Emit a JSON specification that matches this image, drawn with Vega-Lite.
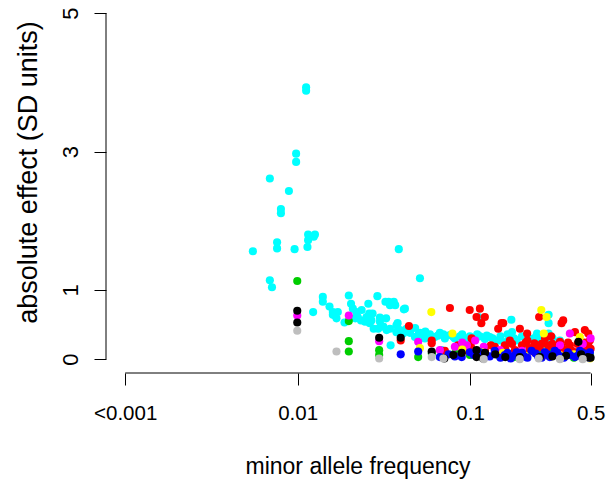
{
  "$schema": "https://vega.github.io/schema/vega-lite/v6.json",
  "width": 503,
  "height": 373,
  "autosize": {"type": "none"},
  "padding": {"left": 106, "top": 0, "right": 3, "bottom": 110},
  "background": "white",
  "config": {"view": {"stroke": null}, "font": "Liberation Sans"},
  "layer": [
    {
      "data": {"values": [{"x1": 0.001, "x2": 0.5}]},
      "mark": {"type": "rule", "color": "black", "strokeWidth": 1},
      "encoding": {
        "x": {"field": "x1", "type": "quantitative", "scale": {"type": "log", "domain": [0.000774, 0.639], "nice": false, "zero": false}},
        "x2": {"field": "x2"},
        "y": {"datum": -0.2, "type": "quantitative"}
      }
    },
    {
      "data": {"values": [{"y1": 0, "y2": 5}]},
      "mark": {"type": "rule", "color": "black", "strokeWidth": 1},
      "encoding": {
        "y": {"field": "y1", "type": "quantitative"},
        "y2": {"field": "y2"},
        "x": {"datum": 0.000774, "type": "quantitative"}
      }
    },
    {
      "data": {"values": [
        {"maf": 0.0112, "effect": 3.93, "grp": "cyan"},
        {"maf": 0.0112, "effect": 3.88, "grp": "cyan"},
        {"maf": 0.0098, "effect": 2.97, "grp": "cyan"},
        {"maf": 0.0098, "effect": 2.85, "grp": "cyan"},
        {"maf": 0.0069, "effect": 2.61, "grp": "cyan"},
        {"maf": 0.0089, "effect": 2.43, "grp": "cyan"},
        {"maf": 0.0080, "effect": 2.17, "grp": "cyan"},
        {"maf": 0.0080, "effect": 2.11, "grp": "cyan"},
        {"maf": 0.0115, "effect": 1.80, "grp": "cyan"},
        {"maf": 0.0126, "effect": 1.80, "grp": "cyan"},
        {"maf": 0.0115, "effect": 1.72, "grp": "cyan"},
        {"maf": 0.0124, "effect": 1.77, "grp": "cyan"},
        {"maf": 0.0076, "effect": 1.69, "grp": "cyan"},
        {"maf": 0.0076, "effect": 1.60, "grp": "cyan"},
        {"maf": 0.0055, "effect": 1.56, "grp": "cyan"},
        {"maf": 0.0096, "effect": 1.59, "grp": "cyan"},
        {"maf": 0.0114, "effect": 1.62, "grp": "cyan"},
        {"maf": 0.0386, "effect": 1.59, "grp": "cyan"},
        {"maf": 0.0069, "effect": 1.14, "grp": "cyan"},
        {"maf": 0.0071, "effect": 1.04, "grp": "cyan"},
        {"maf": 0.0512, "effect": 1.17, "grp": "cyan"},
        {"maf": 0.0140, "effect": 0.90, "grp": "cyan"},
        {"maf": 0.0198, "effect": 0.92, "grp": "cyan"},
        {"maf": 0.0290, "effect": 0.91, "grp": "cyan"},
        {"maf": 0.0337, "effect": 0.83, "grp": "cyan"},
        {"maf": 0.0361, "effect": 0.83, "grp": "cyan"},
        {"maf": 0.0343, "effect": 0.78, "grp": "cyan"},
        {"maf": 0.0368, "effect": 0.78, "grp": "cyan"},
        {"maf": 0.0123, "effect": 0.68, "grp": "cyan"},
        {"maf": 0.0140, "effect": 0.83, "grp": "cyan"},
        {"maf": 0.0153, "effect": 0.76, "grp": "cyan"},
        {"maf": 0.0160, "effect": 0.68, "grp": "cyan"},
        {"maf": 0.0160, "effect": 0.64, "grp": "cyan"},
        {"maf": 0.0168, "effect": 0.59, "grp": "cyan"},
        {"maf": 0.0171, "effect": 0.68, "grp": "cyan"},
        {"maf": 0.0204, "effect": 0.80, "grp": "cyan"},
        {"maf": 0.0209, "effect": 0.73, "grp": "cyan"},
        {"maf": 0.0219, "effect": 0.68, "grp": "cyan"},
        {"maf": 0.0223, "effect": 0.61, "grp": "cyan"},
        {"maf": 0.0216, "effect": 0.59, "grp": "cyan"},
        {"maf": 0.0233, "effect": 0.56, "grp": "cyan"},
        {"maf": 0.0257, "effect": 0.80, "grp": "cyan"},
        {"maf": 0.0251, "effect": 0.61, "grp": "cyan"},
        {"maf": 0.0246, "effect": 0.54, "grp": "cyan"},
        {"maf": 0.0262, "effect": 0.52, "grp": "cyan"},
        {"maf": 0.0268, "effect": 0.56, "grp": "cyan"},
        {"maf": 0.0276, "effect": 0.44, "grp": "cyan"},
        {"maf": 0.0293, "effect": 0.44, "grp": "cyan"},
        {"maf": 0.0300, "effect": 0.54, "grp": "cyan"},
        {"maf": 0.0314, "effect": 0.47, "grp": "cyan"},
        {"maf": 0.0328, "effect": 0.42, "grp": "cyan"},
        {"maf": 0.0343, "effect": 0.44, "grp": "cyan"},
        {"maf": 0.0374, "effect": 0.49, "grp": "cyan"},
        {"maf": 0.0374, "effect": 0.39, "grp": "cyan"},
        {"maf": 0.0392, "effect": 0.42, "grp": "cyan"},
        {"maf": 0.0409, "effect": 0.37, "grp": "cyan"},
        {"maf": 0.0428, "effect": 0.44, "grp": "cyan"},
        {"maf": 0.0346, "effect": 0.20, "grp": "cyan"},
        {"maf": 0.0413, "effect": 0.72, "grp": "cyan"},
        {"maf": 0.0419, "effect": 0.73, "grp": "cyan"},
        {"maf": 0.0448, "effect": 0.38, "grp": "cyan"},
        {"maf": 0.0479, "effect": 0.32, "grp": "cyan"},
        {"maf": 0.0512, "effect": 0.38, "grp": "cyan"},
        {"maf": 0.0547, "effect": 0.30, "grp": "cyan"},
        {"maf": 0.0585, "effect": 0.36, "grp": "cyan"},
        {"maf": 0.0625, "effect": 0.32, "grp": "cyan"},
        {"maf": 0.0668, "effect": 0.38, "grp": "cyan"},
        {"maf": 0.0714, "effect": 0.30, "grp": "cyan"},
        {"maf": 0.0764, "effect": 0.35, "grp": "cyan"},
        {"maf": 0.0816, "effect": 0.30, "grp": "cyan"},
        {"maf": 0.0873, "effect": 0.33, "grp": "cyan"},
        {"maf": 0.0933, "effect": 0.29, "grp": "cyan"},
        {"maf": 0.0997, "effect": 0.33, "grp": "cyan"},
        {"maf": 0.1066, "effect": 0.29, "grp": "cyan"},
        {"maf": 0.1140, "effect": 0.33, "grp": "cyan"},
        {"maf": 0.1218, "effect": 0.29, "grp": "cyan"},
        {"maf": 0.1302, "effect": 0.32, "grp": "cyan"},
        {"maf": 0.1392, "effect": 0.27, "grp": "cyan"},
        {"maf": 0.0683, "effect": 0.13, "grp": "cyan"},
        {"maf": 0.1118, "effect": 0.61, "grp": "cyan"},
        {"maf": 0.1735, "effect": 0.57, "grp": "cyan"},
        {"maf": 0.1749, "effect": 0.39, "grp": "cyan"},
        {"maf": 0.1701, "effect": 0.32, "grp": "cyan"},
        {"maf": 0.1862, "effect": 0.27, "grp": "cyan"},
        {"maf": 0.1627, "effect": 0.25, "grp": "cyan"},
        {"maf": 0.2445, "effect": 0.37, "grp": "cyan"},
        {"maf": 0.2853, "effect": 0.64, "grp": "cyan"},
        {"maf": 0.2853, "effect": 0.52, "grp": "cyan"},
        {"maf": 0.2853, "effect": 0.37, "grp": "cyan"},
        {"maf": 0.2917, "effect": 0.27, "grp": "cyan"},
        {"maf": 0.1489, "effect": 0.27, "grp": "cyan"},
        {"maf": 0.1590, "effect": 0.23, "grp": "cyan"},
        {"maf": 0.2080, "effect": 0.20, "grp": "cyan"},
        {"maf": 0.2539, "effect": 0.25, "grp": "cyan"},
        {"maf": 0.3316, "effect": 0.27, "grp": "cyan"},
        {"maf": 0.2714, "effect": 0.16, "grp": "cyan"},
        {"maf": 0.0323, "effect": 0.83, "grp": "cyan"},
        {"maf": 0.0235, "effect": 0.71, "grp": "cyan"},
        {"maf": 0.0272, "effect": 0.66, "grp": "cyan"},
        {"maf": 0.0187, "effect": 0.53, "grp": "cyan"},
        {"maf": 0.0326, "effect": 0.59, "grp": "cyan"},
        {"maf": 0.045, "effect": 0.42, "grp": "cyan"},
        {"maf": 0.050, "effect": 0.35, "grp": "cyan"},
        {"maf": 0.055, "effect": 0.40, "grp": "cyan"},
        {"maf": 0.065, "effect": 0.34, "grp": "cyan"},
        {"maf": 0.070, "effect": 0.36, "grp": "cyan"},
        {"maf": 0.080, "effect": 0.32, "grp": "cyan"},
        {"maf": 0.090, "effect": 0.36, "grp": "cyan"},
        {"maf": 0.100, "effect": 0.30, "grp": "cyan"},
        {"maf": 0.110, "effect": 0.36, "grp": "cyan"},
        {"maf": 0.125, "effect": 0.34, "grp": "cyan"},
        {"maf": 0.135, "effect": 0.30, "grp": "cyan"},
        {"maf": 0.150, "effect": 0.33, "grp": "cyan"},
        {"maf": 0.165, "effect": 0.36, "grp": "cyan"},
        {"maf": 0.180, "effect": 0.30, "grp": "cyan"},
        {"maf": 0.200, "effect": 0.33, "grp": "cyan"},
        {"maf": 0.220, "effect": 0.30, "grp": "cyan"},
        {"maf": 0.240, "effect": 0.32, "grp": "cyan"},
        {"maf": 0.260, "effect": 0.29, "grp": "cyan"},
        {"maf": 0.300, "effect": 0.31, "grp": "cyan"},
        {"maf": 0.038, "effect": 0.52, "grp": "cyan"},
        {"maf": 0.030, "effect": 0.60, "grp": "cyan"},
        {"maf": 0.026, "effect": 0.66, "grp": "cyan"},
        {"maf": 0.048, "effect": 0.45, "grp": "cyan"},
        {"maf": 0.0442, "effect": 0.48, "grp": "red"},
        {"maf": 0.0396, "effect": 0.27, "grp": "red"},
        {"maf": 0.0764, "effect": 0.74, "grp": "red"},
        {"maf": 0.0995, "effect": 0.71, "grp": "red"},
        {"maf": 0.1140, "effect": 0.73, "grp": "red"},
        {"maf": 0.1218, "effect": 0.61, "grp": "red"},
        {"maf": 0.1090, "effect": 0.61, "grp": "red"},
        {"maf": 0.1162, "effect": 0.52, "grp": "red"},
        {"maf": 0.1523, "effect": 0.52, "grp": "red"},
        {"maf": 0.1455, "effect": 0.44, "grp": "red"},
        {"maf": 0.1020, "effect": 0.30, "grp": "red"},
        {"maf": 0.1320, "effect": 0.20, "grp": "red"},
        {"maf": 0.1392, "effect": 0.18, "grp": "red"},
        {"maf": 0.0599, "effect": 0.27, "grp": "red"},
        {"maf": 0.0599, "effect": 0.23, "grp": "red"},
        {"maf": 0.2514, "effect": 0.61, "grp": "red"},
        {"maf": 0.3392, "effect": 0.52, "grp": "red"},
        {"maf": 0.3467, "effect": 0.56, "grp": "red"},
        {"maf": 0.1555, "effect": 0.52, "grp": "red"},
        {"maf": 0.1944, "effect": 0.44, "grp": "red"},
        {"maf": 0.2142, "effect": 0.37, "grp": "red"},
        {"maf": 0.4058, "effect": 0.39, "grp": "red"},
        {"maf": 0.4627, "effect": 0.42, "grp": "red"},
        {"maf": 0.4844, "effect": 0.37, "grp": "red"},
        {"maf": 0.4949, "effect": 0.27, "grp": "red"},
        {"maf": 0.4844, "effect": 0.20, "grp": "red"},
        {"maf": 0.159, "effect": 0.20, "grp": "red"},
        {"maf": 0.170, "effect": 0.27, "grp": "red"},
        {"maf": 0.182, "effect": 0.13, "grp": "red"},
        {"maf": 0.200, "effect": 0.20, "grp": "red"},
        {"maf": 0.222, "effect": 0.16, "grp": "red"},
        {"maf": 0.236, "effect": 0.23, "grp": "red"},
        {"maf": 0.254, "effect": 0.13, "grp": "red"},
        {"maf": 0.283, "effect": 0.20, "grp": "red"},
        {"maf": 0.305, "effect": 0.16, "grp": "red"},
        {"maf": 0.332, "effect": 0.25, "grp": "red"},
        {"maf": 0.355, "effect": 0.13, "grp": "red"},
        {"maf": 0.379, "effect": 0.20, "grp": "red"},
        {"maf": 0.405, "effect": 0.10, "grp": "red"},
        {"maf": 0.445, "effect": 0.16, "grp": "red"},
        {"maf": 0.482, "effect": 0.10, "grp": "red"},
        {"maf": 0.272, "effect": 0.30, "grp": "red"},
        {"maf": 0.295, "effect": 0.33, "grp": "red"},
        {"maf": 0.085, "effect": 0.20, "grp": "red"},
        {"maf": 0.093, "effect": 0.13, "grp": "red"},
        {"maf": 0.101, "effect": 0.19, "grp": "red"},
        {"maf": 0.122, "effect": 0.13, "grp": "red"},
        {"maf": 0.114, "effect": 0.06, "grp": "red"},
        {"maf": 0.149, "effect": 0.09, "grp": "red"},
        {"maf": 0.0714, "effect": 0.12, "grp": "red"},
        {"maf": 0.194, "effect": 0.06, "grp": "red"},
        {"maf": 0.236, "effect": 0.10, "grp": "red"},
        {"maf": 0.326, "effect": 0.06, "grp": "red"},
        {"maf": 0.215, "effect": 0.27, "grp": "red"},
        {"maf": 0.160, "effect": 0.15, "grp": "red"},
        {"maf": 0.175, "effect": 0.22, "grp": "red"},
        {"maf": 0.190, "effect": 0.10, "grp": "red"},
        {"maf": 0.210, "effect": 0.24, "grp": "red"},
        {"maf": 0.230, "effect": 0.12, "grp": "red"},
        {"maf": 0.245, "effect": 0.18, "grp": "red"},
        {"maf": 0.260, "effect": 0.22, "grp": "red"},
        {"maf": 0.280, "effect": 0.10, "grp": "red"},
        {"maf": 0.300, "effect": 0.22, "grp": "red"},
        {"maf": 0.320, "effect": 0.12, "grp": "red"},
        {"maf": 0.340, "effect": 0.18, "grp": "red"},
        {"maf": 0.370, "effect": 0.24, "grp": "red"},
        {"maf": 0.390, "effect": 0.12, "grp": "red"},
        {"maf": 0.420, "effect": 0.22, "grp": "red"},
        {"maf": 0.460, "effect": 0.24, "grp": "red"},
        {"maf": 0.500, "effect": 0.15, "grp": "red"},
        {"maf": 0.430, "effect": 0.10, "grp": "red"},
        {"maf": 0.360, "effect": 0.08, "grp": "red"},
        {"maf": 0.270, "effect": 0.06, "grp": "red"},
        {"maf": 0.210, "effect": 0.08, "grp": "red"},
        {"maf": 0.00995, "effect": 1.13, "grp": "green"},
        {"maf": 0.0198, "effect": 0.55, "grp": "green"},
        {"maf": 0.0198, "effect": 0.26, "grp": "green"},
        {"maf": 0.0198, "effect": 0.11, "grp": "green"},
        {"maf": 0.0297, "effect": 0.13, "grp": "green"},
        {"maf": 0.0297, "effect": 0.06, "grp": "green"},
        {"maf": 0.0500, "effect": 0.03, "grp": "green"},
        {"maf": 0.0816, "effect": 0.08, "grp": "green"},
        {"maf": 0.0997, "effect": 0.06, "grp": "green"},
        {"maf": 0.149, "effect": 0.04, "grp": "green"},
        {"maf": 0.254, "effect": 0.06, "grp": "green"},
        {"maf": 0.495, "effect": 0.06, "grp": "green"},
        {"maf": 0.305, "effect": 0.10, "grp": "green"},
        {"maf": 0.120, "effect": 0.05, "grp": "green"},
        {"maf": 0.180, "effect": 0.03, "grp": "green"},
        {"maf": 0.400, "effect": 0.02, "grp": "green"},
        {"maf": 0.060, "effect": 0.08, "grp": "green"},
        {"maf": 0.00995, "effect": 0.63, "grp": "magenta"},
        {"maf": 0.0198, "effect": 0.63, "grp": "magenta"},
        {"maf": 0.0297, "effect": 0.26, "grp": "magenta"},
        {"maf": 0.0500, "effect": 0.25, "grp": "magenta"},
        {"maf": 0.0816, "effect": 0.18, "grp": "magenta"},
        {"maf": 0.0958, "effect": 0.20, "grp": "magenta"},
        {"maf": 0.107, "effect": 0.27, "grp": "magenta"},
        {"maf": 0.379, "effect": 0.37, "grp": "magenta"},
        {"maf": 0.332, "effect": 0.20, "grp": "magenta"},
        {"maf": 0.149, "effect": 0.13, "grp": "magenta"},
        {"maf": 0.0668, "effect": 0.13, "grp": "magenta"},
        {"maf": 0.090, "effect": 0.24, "grp": "magenta"},
        {"maf": 0.120, "effect": 0.18, "grp": "magenta"},
        {"maf": 0.200, "effect": 0.12, "grp": "magenta"},
        {"maf": 0.450, "effect": 0.22, "grp": "magenta"},
        {"maf": 0.500, "effect": 0.30, "grp": "magenta"},
        {"maf": 0.0596, "effect": 0.68, "grp": "yellow"},
        {"maf": 0.079, "effect": 0.37, "grp": "yellow"},
        {"maf": 0.2588, "effect": 0.71, "grp": "yellow"},
        {"maf": 0.2776, "effect": 0.61, "grp": "yellow"},
        {"maf": 0.2677, "effect": 0.37, "grp": "yellow"},
        {"maf": 0.433, "effect": 0.32, "grp": "yellow"},
        {"maf": 0.0512, "effect": 0.16, "grp": "yellow"},
        {"maf": 0.155, "effect": 0.09, "grp": "yellow"},
        {"maf": 0.495, "effect": 0.01, "grp": "yellow"},
        {"maf": 0.332, "effect": 0.06, "grp": "yellow"},
        {"maf": 0.117, "effect": 0.10, "grp": "yellow"},
        {"maf": 0.090, "effect": 0.14, "grp": "yellow"},
        {"maf": 0.210, "effect": 0.05, "grp": "yellow"},
        {"maf": 0.400, "effect": 0.07, "grp": "yellow"},
        {"maf": 0.0396, "effect": 0.07, "grp": "blue"},
        {"maf": 0.0500, "effect": 0.11, "grp": "blue"},
        {"maf": 0.0894, "effect": 0.03, "grp": "blue"},
        {"maf": 0.114, "effect": 0.10, "grp": "blue"},
        {"maf": 0.130, "effect": 0.04, "grp": "blue"},
        {"maf": 0.139, "effect": 0.12, "grp": "blue"},
        {"maf": 0.159, "effect": 0.06, "grp": "blue"},
        {"maf": 0.172, "effect": 0.01, "grp": "blue"},
        {"maf": 0.186, "effect": 0.10, "grp": "blue"},
        {"maf": 0.206, "effect": 0.04, "grp": "blue"},
        {"maf": 0.227, "effect": 0.12, "grp": "blue"},
        {"maf": 0.248, "effect": 0.04, "grp": "blue"},
        {"maf": 0.271, "effect": 0.10, "grp": "blue"},
        {"maf": 0.290, "effect": 0.03, "grp": "blue"},
        {"maf": 0.310, "effect": 0.12, "grp": "blue"},
        {"maf": 0.335, "effect": 0.04, "grp": "blue"},
        {"maf": 0.369, "effect": 0.10, "grp": "blue"},
        {"maf": 0.405, "effect": 0.03, "grp": "blue"},
        {"maf": 0.433, "effect": 0.12, "grp": "blue"},
        {"maf": 0.475, "effect": 0.04, "grp": "blue"},
        {"maf": 0.495, "effect": 0.10, "grp": "blue"},
        {"maf": 0.0997, "effect": 0.10, "grp": "blue"},
        {"maf": 0.122, "effect": 0.03, "grp": "blue"},
        {"maf": 0.0816, "effect": 0.04, "grp": "blue"},
        {"maf": 0.0668, "effect": 0.03, "grp": "blue"},
        {"maf": 0.150, "effect": 0.02, "grp": "blue"},
        {"maf": 0.165, "effect": 0.09, "grp": "blue"},
        {"maf": 0.180, "effect": 0.05, "grp": "blue"},
        {"maf": 0.200, "effect": 0.09, "grp": "blue"},
        {"maf": 0.215, "effect": 0.02, "grp": "blue"},
        {"maf": 0.240, "effect": 0.08, "grp": "blue"},
        {"maf": 0.260, "effect": 0.02, "grp": "blue"},
        {"maf": 0.280, "effect": 0.07, "grp": "blue"},
        {"maf": 0.300, "effect": 0.06, "grp": "blue"},
        {"maf": 0.320, "effect": 0.09, "grp": "blue"},
        {"maf": 0.350, "effect": 0.02, "grp": "blue"},
        {"maf": 0.380, "effect": 0.06, "grp": "blue"},
        {"maf": 0.420, "effect": 0.05, "grp": "blue"},
        {"maf": 0.450, "effect": 0.09, "grp": "blue"},
        {"maf": 0.490, "effect": 0.02, "grp": "blue"},
        {"maf": 0.105, "effect": 0.06, "grp": "blue"},
        {"maf": 0.075, "effect": 0.07, "grp": "blue"},
        {"maf": 0.00995, "effect": 0.70, "grp": "black"},
        {"maf": 0.00995, "effect": 0.53, "grp": "black"},
        {"maf": 0.0297, "effect": 0.31, "grp": "black"},
        {"maf": 0.0396, "effect": 0.31, "grp": "black"},
        {"maf": 0.0709, "effect": 0.01, "grp": "black"},
        {"maf": 0.0599, "effect": 0.11, "grp": "black"},
        {"maf": 0.0894, "effect": 0.09, "grp": "black"},
        {"maf": 0.109, "effect": 0.13, "grp": "black"},
        {"maf": 0.109, "effect": 0.03, "grp": "black"},
        {"maf": 0.119, "effect": 0.01, "grp": "black"},
        {"maf": 0.122, "effect": 0.09, "grp": "black"},
        {"maf": 0.425, "effect": 0.25, "grp": "black"},
        {"maf": 0.194, "effect": 0.03, "grp": "black"},
        {"maf": 0.254, "effect": 0.03, "grp": "black"},
        {"maf": 0.482, "effect": 0.03, "grp": "black"},
        {"maf": 0.140, "effect": 0.07, "grp": "black"},
        {"maf": 0.160, "effect": 0.03, "grp": "black"},
        {"maf": 0.300, "effect": 0.04, "grp": "black"},
        {"maf": 0.360, "effect": 0.05, "grp": "black"},
        {"maf": 0.440, "effect": 0.07, "grp": "black"},
        {"maf": 0.500, "effect": 0.02, "grp": "black"},
        {"maf": 0.080, "effect": 0.06, "grp": "black"},
        {"maf": 0.00995, "effect": 0.41, "grp": "gray"},
        {"maf": 0.0168, "effect": 0.11, "grp": "gray"},
        {"maf": 0.0599, "effect": 0.03, "grp": "gray"},
        {"maf": 0.0297, "effect": 0.01, "grp": "gray"},
        {"maf": 0.194, "effect": 0.0, "grp": "gray"},
        {"maf": 0.332, "effect": 0.0, "grp": "gray"},
        {"maf": 0.120, "effect": 0.0, "grp": "gray"},
        {"maf": 0.250, "effect": 0.01, "grp": "gray"},
        {"maf": 0.450, "effect": 0.0, "grp": "gray"},
        {"maf": 0.070, "effect": 0.01, "grp": "gray"}
      ]},
      "mark": {"type": "circle", "size": 66, "opacity": 1},
      "encoding": {
        "x": {
          "field": "maf", "type": "quantitative",
          "axis": {
            "values": [0.001, 0.01, 0.1, 0.5],
            "labelExpr": "datum.value < 0.002 ? '<0.001' : datum.value + ''",
            "domain": false, "grid": false,
            "tickSize": 12, "tickColor": "black", "tickWidth": 1,
            "labelFont": "Liberation Sans", "labelFontSize": 20.5, "labelColor": "black",
            "labelPadding": 18, "labelFlush": false, "labelOverlap": false,
            "title": "minor allele frequency",
            "titleFont": "Liberation Sans", "titleFontSize": 23, "titleFontWeight": "normal", "titleColor": "black",
            "titleBaseline": "alphabetic", "titleY": 100
          }
        },
        "y": {
          "field": "effect", "type": "quantitative",
          "scale": {"domain": [-0.2, 5.19], "nice": false, "zero": false},
          "axis": {
            "values": [0, 1, 3, 5],
            "labelExpr": "datum.value + ''",
            "domain": false, "grid": false,
            "tickSize": 12, "tickColor": "black", "tickWidth": 1,
            "labelFont": "Liberation Sans", "labelFontSize": 22, "labelColor": "black",
            "labelAngle": 270, "labelAlign": "center", "labelBaseline": "alphabetic",
            "labelPadding": 17, "labelOverlap": false, "labelFlush": false,
            "title": "absolute effect (SD units)",
            "titleFont": "Liberation Sans", "titleFontSize": 27, "titleFontWeight": "normal", "titleColor": "black",
            "titleAngle": 270, "titleAlign": "center", "titleBaseline": "alphabetic",
            "titleX": -69.5, "titleY": 172
          }
        },
        "color": {
          "field": "grp", "type": "nominal", "legend": null,
          "scale": {
            "domain": ["black", "red", "green", "blue", "cyan", "magenta", "yellow", "gray"],
            "range": ["#000000", "#FF0000", "#00CD00", "#0000FF", "#00FFFF", "#FF00FF", "#FFFF00", "#BEBEBE"]
          }
        }
      }
    }
  ]
}
